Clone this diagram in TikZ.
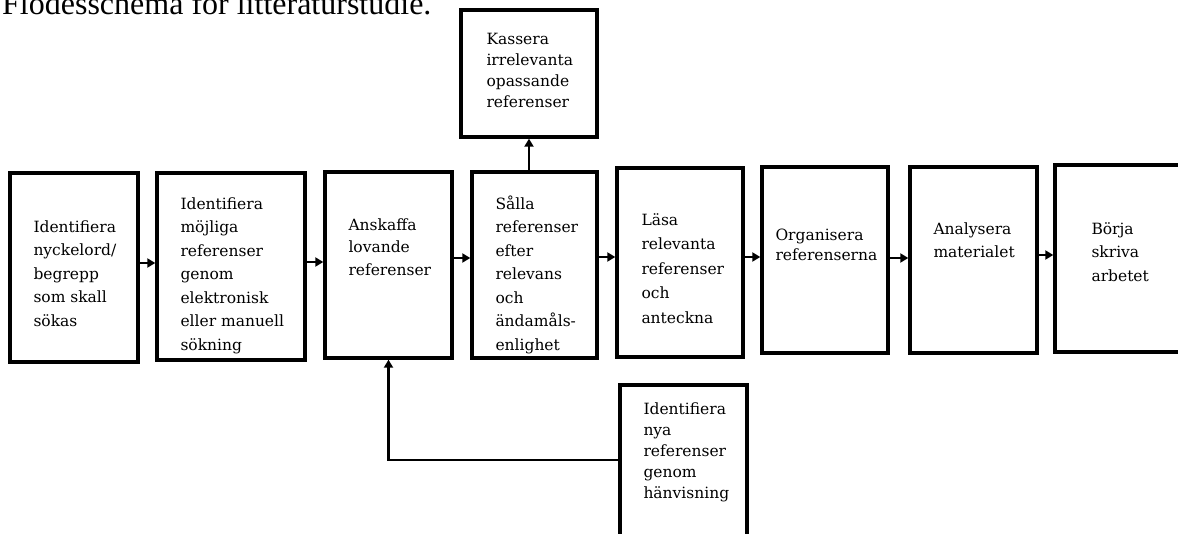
\documentclass[tikz,border=0pt]{standalone}
\usepackage{fontspec}
\setmainfont{DejaVu Serif}
\newfontfamily\rubrikfont{Liberation Serif}
\usetikzlibrary{arrows.meta}
\tikzstyle{steg}=[draw, rectangle, line width=3.4pt, inner sep=0pt]
\tikzstyle{txt}=[anchor=north west, inner sep=0pt, align=left,
    font=\fontsize{15.5}{23.5}\selectfont]
\tikzstyle{pil}=[line width=2.8pt, -{Triangle[length=8pt,width=9pt]}]

\begin{document}
\begin{tikzpicture}[x=1pt,y=-1pt]
  \useasboundingbox (0,0) rectangle (1178,534);
  \node[anchor=base west, inner sep=0pt, font=\rubrikfont\fontsize{32}{32}\selectfont] (rubrik) at (2,15) {Flödesschema för litteraturstudie.};

  % huvudkedjan
  \node[steg, minimum width=128pt, minimum height=189pt] at (74, 267.5) (b1) {};
    \path (b1.north west) +(25,49) node[txt] (t1) {Identifiera\\nyckelord/\\begrepp\\som skall\\sökas};
  \node[steg, minimum width=148pt, minimum height=187pt] at (231, 266.5) (b2) {};
    \path (b2.north west) +(25,26) node[txt] (t2) {Identifiera\\möjliga\\referenser\\genom\\elektronisk\\eller manuell\\sökning};
  \node[steg, minimum width=127pt, minimum height=186pt] at (388.5, 265) (b3) {};
    \path (b3.north west) +(25,48) node[txt, font=\fontsize{15.5}{22.5}\selectfont] (t3) {Anskaffa\\lovande\\referenser};
  \node[steg, minimum width=125pt, minimum height=186pt] at (534.5, 265) (b4) {};
    \path (b4.north west) +(25,25) node[txt] (t4) {Sålla\\referenser\\efter\\relevans\\och\\ändamåls-\\enlighet};
  \node[steg, minimum width=126pt, minimum height=189pt] at (680, 262.5) (b5) {};
    \path (b5.north west) +(26,47) node[txt, font=\fontsize{15.5}{24.5}\selectfont] (t5) {Läsa\\relevanta\\referenser\\och\\anteckna};
  \node[steg, minimum width=126pt, minimum height=186pt] at (825, 260) (b6) {};
    \path (b6.north west) +(15,63) node[txt, font=\fontsize{15.5}{20.5}\selectfont] (t6) {Organisera\\referenserna};
  \node[steg, minimum width=127pt, minimum height=186pt] at (973.5, 260) (b7) {};
    \path (b7.north west) +(25,57) node[txt] (t7) {Analysera\\materialet};
  \node[steg, minimum width=140pt, minimum height=187pt] at (1125, 258.5) (b8) {};
    \path (b8.north west) +(38,59) node[txt] (t8) {Börja\\skriva\\arbetet};

  % sidorutor
  \node[steg, minimum width=136pt, minimum height=127pt] at (529, 73.5) (kas) {};
    \path (kas.north west) +(27,25) node[txt, font=\fontsize{15.5}{21}\selectfont] (tkas) {Kassera\\irrelevanta\\opassande\\referenser};
  \node[steg, minimum width=127pt, minimum height=175pt] at (683.5, 472.5) (hanv) {};
    \path (hanv.north west) +(25,19) node[txt, font=\fontsize{15.5}{21}\selectfont] (thanv) {Identifiera\\nya\\referenser\\genom\\hänvisning};

  \draw[pil] ([yshift=4.5pt]b1.east) -- ([yshift=4.5pt]b1.east -| b2.west);
  \draw[pil] ([yshift=4.5pt]b2.east) -- ([yshift=4.5pt]b2.east -| b3.west);
  \draw[pil] ([yshift=7pt]b3.east) -- ([yshift=7pt]b3.east -| b4.west);
  \draw[pil] ([yshift=8pt]b4.east) -- ([yshift=8pt]b4.east -| b5.west);
  \draw[pil] ([yshift=5.5pt]b5.east) -- ([yshift=5.5pt]b5.east -| b6.west);
  \draw[pil] ([yshift=2pt]b6.east) -- ([yshift=2pt]b6.east -| b7.west);
  \draw[pil] ([yshift=5pt]b7.east) -- ([yshift=5pt]b7.east -| b8.west);

  \draw[pil] (b4.north -| kas.south) -- (kas.south);
  \draw[pil] ([yshift=12.5pt]hanv.west) -| (b3.south);
\end{tikzpicture}
\end{document}
